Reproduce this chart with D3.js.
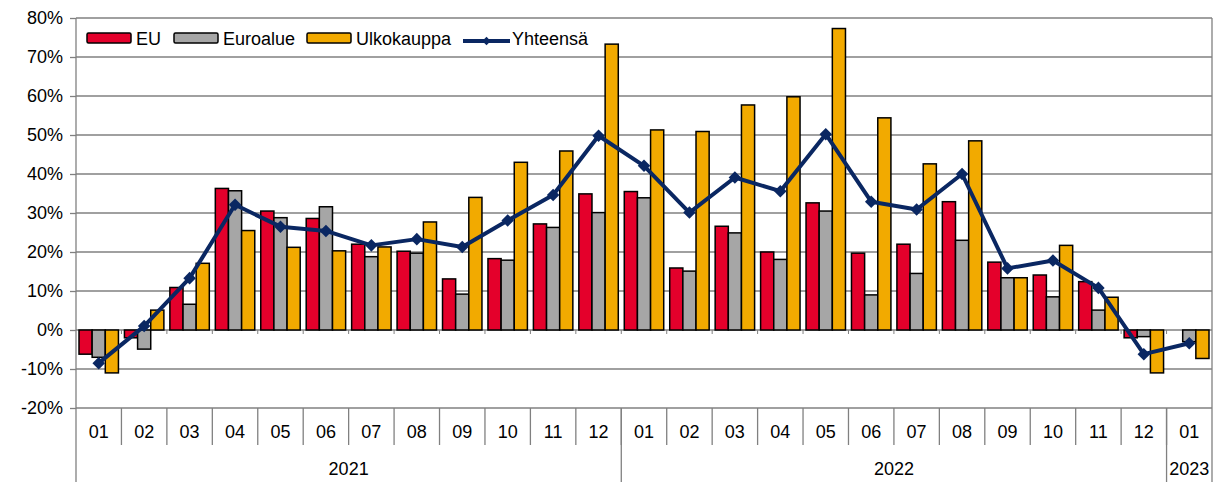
<!doctype html>
<html>
  <head>
    <script src="https://cdn.jsdelivr.net/npm/d3@7/dist/d3.min.js"></script>
    <style>
      body { margin: 0; background: #fff; }
      svg text { font-family: "Liberation Sans", Arial, sans-serif; fill: #000; }
    </style>
  </head>
  <body>
    <script>
        // data, % change vs. same month a year earlier
        var months = ["01","02","03","04","05","06","07","08","09","10","11","12",
                      "01","02","03","04","05","06","07","08","09","10","11","12","01"];
        var years = [{label: "2021", from: 0, to: 12}, {label: "2022", from: 12, to: 24}, {label: "2023", from: 24, to: 25}];
        var eu =         [-6.2, -2.0, 10.9, 36.3, 30.5, 28.6, 22.0, 20.2, 13.1, 18.3, 27.2, 34.9,
                          35.5, 15.9, 26.6, 20.0, 32.6, 19.7, 22.0, 32.9, 17.4, 14.1, 12.4, -2.0, 0.0];
        var euroalue =   [-7.0, -4.9, 6.6, 35.7, 28.8, 31.6, 18.8, 19.7, 9.2, 17.9, 26.3, 30.1,
                          33.9, 15.1, 24.9, 18.1, 30.5, 9.0, 14.5, 23.0, 13.4, 8.5, 5.1, -1.7, -3.0];
        var ulkokauppa = [-11.0, 5.1, 17.1, 25.5, 21.2, 20.3, 21.3, 27.7, 34.0, 43.0, 45.9, 73.3,
                          51.3, 50.9, 57.7, 59.8, 77.3, 54.4, 42.6, 48.5, 13.4, 21.7, 8.4, -11.0, -7.3];
        var yhteensa =   [-8.5, 1.0, 13.3, 32.1, 26.5, 25.4, 21.7, 23.3, 21.3, 28.1, 34.6, 49.8,
                          42.1, 30.1, 39.1, 35.6, 50.2, 32.9, 30.9, 40.0, 15.8, 17.8, 10.8, -6.2, -3.4];
        var yTicks = [-20, -10, 0, 10, 20, 30, 40, 50, 60, 70, 80];

        var series = [
            {name: "EU", values: eu, color: "#e4002b"},
            {name: "Euroalue", values: euroalue, color: "#a6a6a6"},
            {name: "Ulkokauppa", values: ulkokauppa, color: "#f2aa00"}
        ];
        var lineColor = "#0a2762";

        var width = 1217, height = 482;
        var plot = {left: 76, right: 1212, top: 18, bottom: 408};

        var svg = d3.select("body").append("svg")
            .attr("width", width)
            .attr("height", height);

        var x = d3.scaleBand()
            .domain(d3.range(months.length))
            .range([plot.left, plot.right]);

        var x1 = d3.scaleBand()
            .domain(series.map(d => d.name))
            .range([3, x.bandwidth() - 3]);

        var y = d3.scaleLinear()
            .domain([-20, 80])
            .range([plot.bottom, plot.top]);

        // gridlines
        svg.append("g")
            .selectAll("line")
            .data(yTicks)
            .enter().append("line")
            .attr("x1", plot.left).attr("x2", plot.right)
            .attr("y1", d => y(d)).attr("y2", d => y(d))
            .attr("stroke", "#808080")
            .attr("stroke-width", 1.3);

        // right border of plot area
        svg.append("line")
            .attr("x1", plot.right).attr("x2", plot.right)
            .attr("y1", plot.top).attr("y2", height)
            .attr("stroke", "#808080").attr("stroke-width", 1.3);

        // bars
        series.forEach(function(s){
            svg.append("g").selectAll("rect")
                .data(s.values)
                .enter().append("rect")
                .attr("x", (d, i) => x(i) + x1(s.name))
                .attr("y", d => y(Math.max(0, d)))
                .attr("width", x1.bandwidth())
                .attr("height", d => Math.abs(y(d) - y(0)))
                .attr("fill", s.color)
                .attr("stroke", "#000")
                .attr("stroke-width", 1.5);
        });

        // small ticks on the zero line at category boundaries
        svg.append("g").selectAll("line")
            .data(d3.range(1, months.length))
            .enter().append("line")
            .attr("x1", d => x(d)).attr("x2", d => x(d))
            .attr("y1", y(0)).attr("y2", y(0) + 4)
            .attr("stroke", "#808080");

        // total line
        var line = d3.line()
            .x((d, i) => x(i) + x.bandwidth() / 2)
            .y(d => y(d));

        svg.append("path")
            .datum(yhteensa)
            .attr("d", line)
            .attr("fill", "none")
            .attr("stroke", lineColor)
            .attr("stroke-width", 4)
            .attr("stroke-linejoin", "round");

        svg.append("g").selectAll("path")
            .data(yhteensa)
            .enter().append("path")
            .attr("d", d3.symbol().type(d3.symbolDiamond2).size(100))
            .attr("transform", (d, i) => `translate(${x(i) + x.bandwidth() / 2},${y(d)})`)
            .attr("fill", lineColor);

        // y axis
        var yAxis = svg.append("g")
            .attr("transform", `translate(${plot.left},0)`)
            .call(d3.axisLeft(y).tickValues(yTicks).tickFormat(d => d + "%").tickSize(6).tickPadding(7));
        yAxis.select(".domain").remove();
        yAxis.selectAll(".tick line").attr("stroke", "#808080").attr("stroke-width", 1.3);
        yAxis.selectAll("text").attr("font-size", 18).attr("font-family", "Liberation Sans, Arial, sans-serif");

        svg.append("line")
            .attr("x1", plot.left).attr("x2", plot.left)
            .attr("y1", plot.top).attr("y2", height)
            .attr("stroke", "#808080").attr("stroke-width", 1.3);

        // month separators and labels
        svg.append("g").selectAll("line")
            .data(d3.range(1, months.length))
            .enter().append("line")
            .attr("x1", d => x(d)).attr("x2", d => x(d))
            .attr("y1", plot.bottom).attr("y2", 445)
            .attr("stroke", "#808080").attr("stroke-width", 1.3);

        svg.append("g").selectAll("text")
            .data(months)
            .enter().append("text")
            .attr("x", (d, i) => x(i) + x.bandwidth() / 2)
            .attr("y", 438)
            .attr("text-anchor", "middle")
            .attr("font-size", 18)
            .text(d => d);

        // year separators and labels
        svg.append("g").selectAll("line")
            .data(years.slice(1))
            .enter().append("line")
            .attr("x1", d => x(d.from)).attr("x2", d => x(d.from))
            .attr("y1", plot.bottom).attr("y2", height)
            .attr("stroke", "#808080").attr("stroke-width", 1.3);

        svg.append("g").selectAll("text")
            .data(years)
            .enter().append("text")
            .attr("x", d => (x(d.from) + (d.to < months.length ? x(d.to) : plot.right)) / 2)
            .attr("y", 475)
            .attr("text-anchor", "middle")
            .attr("font-size", 18)
            .text(d => d.label);

        // legend
        var legendItems = [
            {name: "EU", x: 87, type: "bar", color: series[0].color},
            {name: "Euroalue", x: 174, type: "bar", color: series[1].color},
            {name: "Ulkokauppa", x: 307, type: "bar", color: series[2].color},
            {name: "Yhteensä", x: 463, type: "line", color: lineColor}
        ];
        var legend = svg.append("g").selectAll("g")
            .data(legendItems)
            .enter().append("g")
            .attr("transform", d => `translate(${d.x},38)`);

        legend.filter(d => d.type == "bar").append("rect")
            .attr("x", 0).attr("y", -5)
            .attr("width", 44).attr("height", 10)
            .attr("rx", 1.5)
            .attr("fill", d => d.color)
            .attr("stroke", "#000")
            .attr("stroke-width", 1.5);

        var lg = legend.filter(d => d.type == "line");
        lg.append("line")
            .attr("x1", 0).attr("x2", 47)
            .attr("y1", 3).attr("y2", 3)
            .attr("stroke", lineColor).attr("stroke-width", 4);
        lg.append("path")
            .attr("d", d3.symbol().type(d3.symbolDiamond2).size(45))
            .attr("transform", "translate(23.5,3)")
            .attr("fill", lineColor);

        legend.append("text")
            .attr("x", d => d.type == "bar" ? 49 : 49)
            .attr("y", 6.5)
            .attr("font-size", 18)
            .text(d => d.name);
    </script>
  </body>
</html>
